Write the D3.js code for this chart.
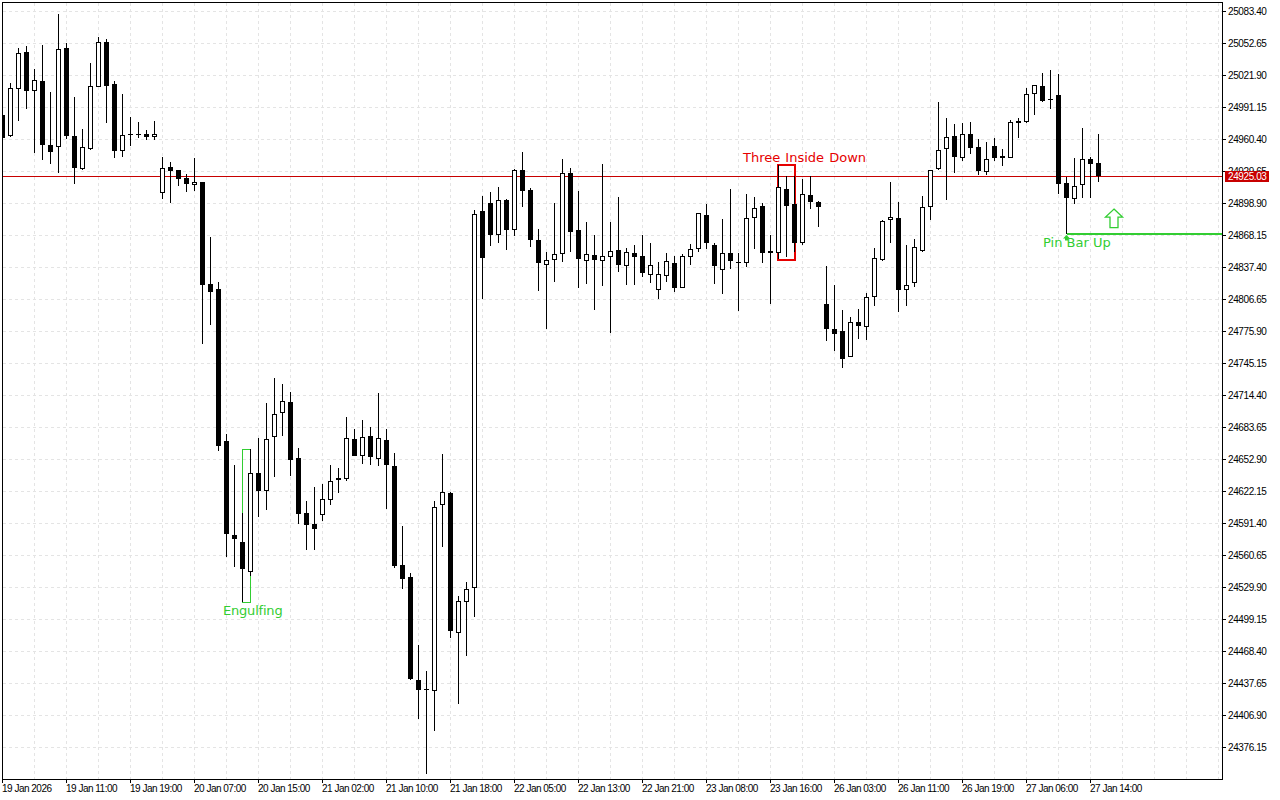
<!DOCTYPE html>
<html><head><meta charset="utf-8">
<script src="https://cdn.jsdelivr.net/npm/d3@7/dist/d3.min.js"></script>
<style>
html,body{margin:0;padding:0;background:#fff;overflow:hidden}
svg{display:block}
.axis text{font-family:"Liberation Sans",Arial,sans-serif;font-size:10px;letter-spacing:-.5px;fill:#000}
.axis.price text{letter-spacing:-.4px}
.note{font-family:"DejaVu Sans",sans-serif;font-size:13px}
</style></head><body>
<svg id="c" width="1280" height="800"></svg>
<script>
const opens=[24983.5,24963.3,25008.4,25044.0,25006.5,25016.1,24954.6,24952.7,25047.8,24963.3,24931.6,24950.8,25010.4,25053.6,25013.3,24948.9,24965.2,24965.2,24965.2,24962.3,24908.5,24933.5,24930.6,24922.9,24916.2,24919.1,24821.1,24816.3,24670.2,24579.9,24573.1,24544.3,24639.4,24622.15,24674.0,24697.1,24707.7,24653.9,24601.0,24590.4,24599.1,24613.5,24634.6,24633.7,24672.1,24655.8,24675.0,24652.9,24671.1,24646.2,24551.0,24539.5,24440.5,24431.9,24430.0,24608.7,24620.2,24485.7,24515.5,24528.9,24891.2,24898.9,24868.15,24901.8,24872.9,24930.6,24911.4,24863.4,24839.3,24844.1,24849.9,24927.7,24872.9,24843.2,24848.9,24843.2,24847.0,24853.7,24838.4,24850.8,24848.0,24829.7,24815.3,24828.8,24841.2,24817.2,24847.0,24854.7,24887.4,24858.5,24834.5,24850.8,24842.2,24841.2,24884.5,24896.0,24852.8,24850.8,24912.4,24897.9,24860.5,24906.6,24899.9,24801.8,24777.8,24775.9,24750.9,24784.6,24779.8,24808.6,24844.1,24882.6,24884.5,24815.3,24822.0,24852.8,24895.1,24931.6,24950.8,24963.3,24942.1,24965.2,24952.7,24928.7,24953.7,24944.1,24942.1,24977.7,24976.8,25003.6,25011.3,24998.8,25002.7,24918.1,24902.8,24916.2,24941.2,24937.3];
const highs=[24983.5,25014.2,25047.8,25049.8,25027.7,25050.7,25005.6,25080.5,25052.65,25000.8,24970.0,25033.4,25058.4,25056.5,25016.1,25003.6,24981.5,24976.8,24969.1,24977.7,24943.1,24938.3,24930.6,24926.8,24942.1,24919.1,24866.2,24823.0,24676.9,24647.1,24601.0,24662.5,24673.1,24706.7,24730.7,24725.0,24717.3,24663.5,24612.5,24626.0,24628.9,24647.1,24644.2,24693.3,24681.7,24690.4,24683.65,24716.3,24681.7,24658.7,24588.5,24543.4,24474.2,24449.2,24612.5,24657.7,24621.2,24521.2,24534.7,24892.2,24905.6,24909.5,24914.3,24902.8,24931.6,24947.9,24913.3,24873.9,24851.8,24898.9,24941.2,24932.5,24910.4,24880.6,24868.15,24936.4,24880.6,24904.7,24855.6,24858.5,24868.15,24860.5,24842.2,24850.8,24848.0,24849.9,24859.5,24889.3,24897.9,24860.5,24883.5,24912.4,24850.8,24907.6,24904.7,24898.9,24868.15,24935.4,24924.8,24924.8,24922.0,24924.8,24900.8,24838.4,24820.1,24796.1,24789.4,24797.0,24812.4,24855.6,24882.6,24919.1,24899.9,24858.5,24864.3,24905.6,24930.6,24995.9,24980.6,24974.8,24975.8,24976.8,24960.4,24957.5,24961.4,24950.8,24978.7,24980.6,25009.4,25012.3,25023.8,25026.7,25022.9,24923.9,24942.1,24971.0,24943.1,24965.2];
const lows=[24961.4,24962.3,24977.7,24989.2,24947.0,24940.2,24936.4,24927.7,24960.4,24917.2,24930.6,24949.8,25010.4,24975.8,24942.1,24943.1,24953.7,24961.4,24959.4,24959.4,24902.8,24898.9,24915.2,24909.5,24910.4,24763.4,24781.7,24660.6,24558.7,24549.1,24515.5,24540.5,24597.2,24603.9,24635.6,24675.0,24636.6,24590.4,24565.4,24565.4,24593.3,24608.7,24620.2,24631.8,24655.8,24648.1,24647.1,24646.2,24604.9,24548.1,24528.0,24440.5,24403.1,24350.2,24391.6,24568.3,24480.9,24417.5,24463.6,24501.1,24806.65,24857.6,24860.5,24853.7,24867.2,24895.1,24856.6,24814.3,24777.8,24823.0,24842.2,24851.8,24817.2,24821.1,24796.1,24819.1,24774.0,24832.6,24820.1,24820.1,24827.8,24822.0,24806.65,24823.0,24813.4,24817.2,24839.3,24851.8,24854.7,24821.1,24811.5,24835.5,24795.1,24837.4,24854.7,24841.2,24801.8,24845.1,24847.0,24851.8,24858.5,24893.1,24875.8,24766.3,24756.7,24740.3,24750.9,24768.2,24767.2,24799.9,24843.2,24860.5,24794.2,24799.9,24818.2,24851.8,24882.6,24930.6,24901.8,24927.7,24939.3,24946.0,24925.8,24925.8,24939.3,24934.5,24942.1,24961.4,24975.8,24983.5,24995.9,24989.2,24907.6,24869.1,24897.9,24903.7,24903.7,24919.1];
const closes=[24961.4,25009.4,25043.0,25006.5,25017.1,24954.6,24947.9,25046.9,24963.3,24932.5,24952.7,25011.3,25053.6,25011.3,24948.9,24964.2,24965.2,24965.2,24962.3,24965.2,24932.5,24929.65,24922.0,24917.2,24919.1,24820.1,24813.4,24665.4,24580.8,24576.0,24547.2,24639.4,24622.15,24672.1,24696.1,24708.6,24651.9,24600.0,24589.5,24585.6,24614.5,24631.8,24632.7,24673.1,24655.8,24674.0,24654.8,24673.1,24647.1,24550.1,24537.6,24441.5,24431.0,24431.9,24606.8,24621.2,24487.6,24516.4,24528.0,24888.3,24846.0,24868.15,24901.8,24872.9,24930.6,24910.4,24863.4,24841.2,24844.1,24849.9,24927.7,24871.0,24845.1,24849.9,24844.1,24848.0,24852.8,24839.3,24851.8,24847.0,24831.6,24839.3,24830.7,24843.2,24817.2,24848.0,24854.7,24889.3,24860.5,24838.4,24850.8,24843.2,24842.2,24884.5,24894.1,24850.8,24850.8,24914.3,24896.0,24860.5,24907.6,24899.9,24895.1,24777.8,24773.0,24749.0,24784.6,24780.7,24808.6,24846.0,24881.6,24885.4,24815.3,24820.1,24856.6,24895.1,24930.6,24949.8,24962.3,24943.1,24965.2,24951.7,24929.65,24941.2,24942.1,24942.1,24976.8,24975.8,25003.6,25012.3,24996.9,24998.8,24917.2,24903.7,24915.2,24941.2,24936.4,24925.03];
const priceTicks=[25083.40,25052.65,25021.90,24991.15,24960.40,24929.65,24898.90,24868.15,24837.40,24806.65,24775.90,24745.15,24714.40,24683.65,24652.90,24622.15,24591.40,24560.65,24529.90,24499.15,24468.40,24437.65,24406.90,24376.15];
const timeLabels=["19 Jan 2026","19 Jan 11:00","19 Jan 19:00","20 Jan 07:00","20 Jan 15:00","21 Jan 02:00","21 Jan 10:00","21 Jan 18:00","22 Jan 05:00","22 Jan 13:00","22 Jan 21:00","23 Jan 08:00","23 Jan 16:00","26 Jan 03:00","26 Jan 11:00","26 Jan 19:00","27 Jan 06:00","27 Jan 14:00"];
const lastPrice=24925.03, pinPrice=24869.1;

const W=1280,H=800,L=2,R=1222,T=2,B=779;
const green="#32cd32",red="#c80000";
const x=d3.scaleLinear().domain([0,152.5]).range([L,R]);
const y=d3.scaleLinear().domain([25092.05,24345.39]).range([T,B]);
const ry=p=>Math.round(y(p));
const svg=d3.select("#c");
svg.append("defs").append("clipPath").attr("id","plot").append("rect").attr("x",L+1).attr("y",T+1).attr("width",R-L-1).attr("height",B-T-1);

const candles=opens.map((o,i)=>({i,o,h:highs[i],l:lows[i],c:closes[i]}));
const plot=svg.append("g").attr("clip-path","url(#plot)").attr("shape-rendering","crispEdges");

// grid
const gridX=d3.range(4,153,4);
plot.append("g").selectAll("line").data(priceTicks).join("line")
 .attr("x1",L+1).attr("x2",R).attr("y1",d=>ry(d)+.5).attr("y2",d=>ry(d)+.5);
plot.append("g").selectAll("line").data(gridX).join("line")
 .attr("y1",T+1).attr("y2",B).attr("x1",d=>x(d)+.5).attr("x2",d=>x(d)+.5);
plot.selectAll("line").attr("stroke","#e4e4e4").attr("stroke-dasharray","3,3");

// last price line (behind the candles)
plot.append("rect").attr("x",L+1).attr("width",R-L-1).attr("y",ry(lastPrice)).attr("height",1).attr("fill",red);

// engulfing box (underneath the candles)
plot.append("rect").attr("x",x(30)+.5).attr("width",x(31)-x(30))
 .attr("y",ry(highs[31])+.5).attr("height",ry(lows[30])-ry(highs[31]))
 .attr("fill","none").attr("stroke",green);

// three inside down box (underneath the candles)
const tidTop=ry(24935.4), tidBot=ry(24844.1);
plot.append("rect").attr("x",x(97)).attr("width",x(99)-x(97)+1)
 .attr("y",tidTop).attr("height",tidBot-tidTop)
 .attr("fill","none").attr("stroke","#e60000").attr("stroke-width",2);

// candles
const gc=plot.append("g");
gc.selectAll("rect.w").data(candles).join("rect").attr("class","w")
 .attr("x",d=>x(d.i)).attr("width",1)
 .attr("y",d=>ry(d.h)).attr("height",d=>Math.max(1,ry(d.l)-ry(d.h))).attr("fill","#000");
gc.selectAll("rect.b").data(candles).join("rect").attr("class","b").each(function(d){
  const t=ry(Math.max(d.o,d.c)),b=ry(Math.min(d.o,d.c)),s=d3.select(this),c=x(d.i);
  if(d.c>d.o&&b-t>1){
    s.attr("x",c-1.5).attr("width",4).attr("y",t+.5).attr("height",b-t-1).attr("fill","#fff").attr("stroke","#000");
  }else{
    s.attr("x",c-2).attr("width",5).attr("y",t).attr("height",Math.max(1,b-t)).attr("fill","#000");
  }
});

// pin bar line
plot.append("rect").attr("x",x(133)+1).attr("width",R-x(133)-1).attr("y",ry(pinPrice)-1).attr("height",2).attr("fill",green);

// axes
const axR=svg.append("g").attr("class","axis price").attr("transform",`translate(${R},0)`)
 .call(d3.axisRight(y).tickValues(priceTicks).tickFormat(d3.format(".2f")).tickSize(4).tickSizeOuter(0).tickPadding(2));
axR.attr("shape-rendering","crispEdges");
const timeIdx=timeLabels.map((_,i)=>i*8);
const axB=svg.append("g").attr("class","axis").attr("transform",`translate(0,${B})`)
 .call(d3.axisBottom(x).tickValues(timeIdx).tickFormat((d,i)=>timeLabels[i]).tickSize(4).tickSizeOuter(0).tickPadding(2));
axB.selectAll("text").attr("text-anchor","start").attr("dx","-0.5");
axB.attr("shape-rendering","crispEdges");
svg.append("path").attr("d",`M${L+.5},${B+.5}V${T+.5}H${R+.5}`).attr("fill","none").attr("stroke","#000").attr("shape-rendering","crispEdges");

// price tag
const tagY=ry(lastPrice);
svg.append("rect").attr("x",R+3).attr("y",tagY-5).attr("width",44).attr("height",11).attr("fill",red).attr("shape-rendering","crispEdges");
svg.append("text").attr("x",R+6).attr("y",tagY+4).attr("fill","#fff")
 .style("font","10px 'Liberation Sans',Arial,sans-serif").style("letter-spacing","-.4px").text(d3.format(".2f")(lastPrice));

// notes
const note=(t,px,py,col,ls,ws)=>svg.append("text").attr("class","note").attr("x",px).attr("y",py).attr("fill",col)
 .style("letter-spacing",ls+"px").style("word-spacing",ws+"px").text(t);
note("Engulfing",x(30)-19,615,green,-.2,0);
note("Three Inside Down",x(97)-35,162,"#e60000",0,1);
note("Pin Bar Up",x(133)-23,247,green,0,0);

// small marker under the pin bar wick
const mx=x(133)+.5,my=ry(pinPrice);
svg.append("path").attr("d",`M${mx},${my+1}l3.5,3.5h-2v2h-3v-2h-2z`).attr("fill",green);

// hollow up arrow
const ax=x(136)+24,ay=y(24893.1);
svg.append("path").attr("d",`M${ax},${ay}l8.5,8h-4.5v10.5h-8v-10.5h-4.5z`).attr("fill","#fff").attr("stroke",green).attr("stroke-width",1.3);
</script>
</body></html>
